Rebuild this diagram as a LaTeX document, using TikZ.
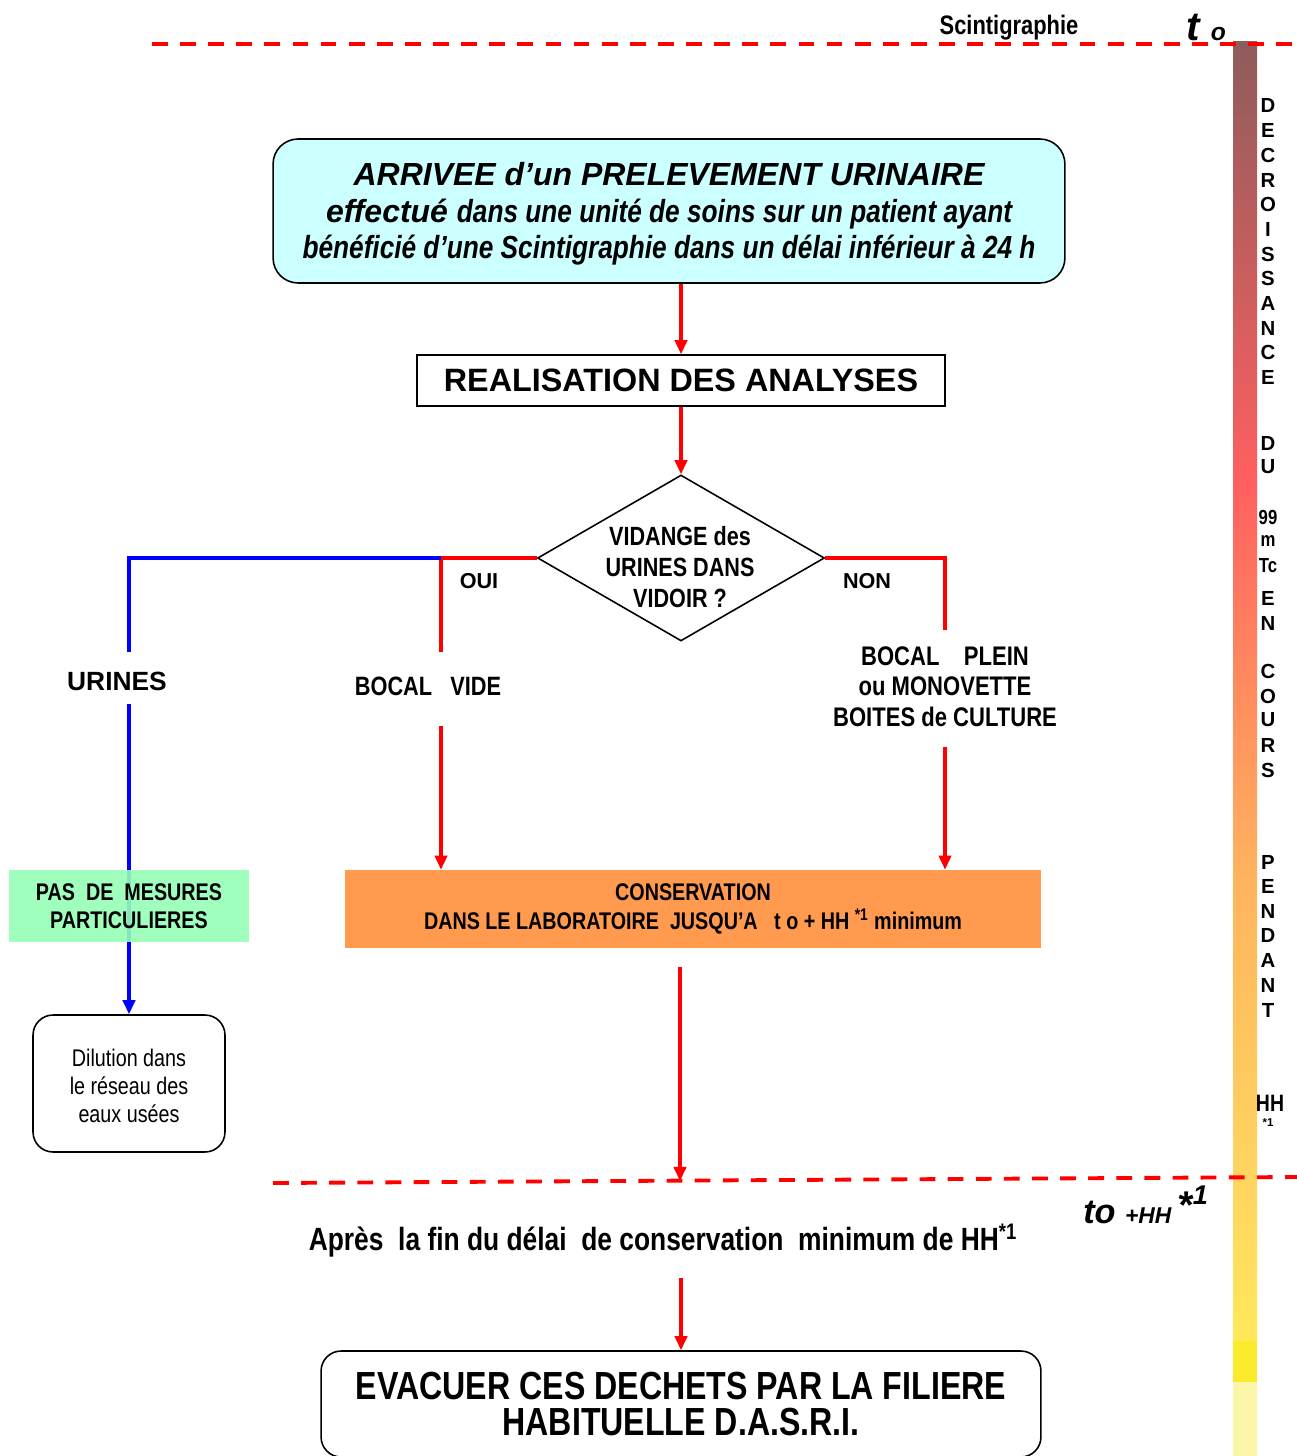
\documentclass[tikz,border=0pt]{standalone}
\usepackage{fontspec}
\setmainfont{Liberation Sans}
\newfontfamily\narrowfont[FakeStretch=0.82]{Liberation Sans}
\usetikzlibrary{shapes.geometric,arrows.meta}
\definecolor{cyanbox}{RGB}{204,255,255}
\definecolor{orangebox}{RGB}{255,154,78}
\definecolor{greenbox}{RGB}{150,255,182}
\definecolor{barA}{RGB}{142,92,92}
\definecolor{barB}{RGB}{255,95,95}
\definecolor{barC}{RGB}{255,180,94}
\definecolor{barD}{RGB}{255,215,95}
\definecolor{barE}{RGB}{255,232,90}
\definecolor{barF}{RGB}{250,235,45}
\definecolor{barG}{RGB}{252,246,168}
\newcommand{\fs}[2]{\fontsize{#1}{#2}\selectfont}

\begin{document}
\begin{tikzpicture}[x=0.02cm,y=-0.02cm,
  redline/.style={red,line width=1.8pt},
  blueline/.style={blue,line width=2.1pt},
  redarrow/.style={redline,-{Triangle[width=7pt,length=8pt]}},
  bluearrow/.style={blueline,-{Triangle[width=7pt,length=8pt]}},
  timeline/.style={red,line width=2.2pt,dash pattern=on 9pt off 7pt},
  txt/.style={align=center,inner sep=0pt,font=\narrowfont\bfseries},
  vlet/.style={inner sep=0pt,font=\bfseries\fs{11.6}{12}}]
\useasboundingbox (0,0) rectangle (1297,1456);

% decay bar
\shade[top color=barA,bottom color=barB] (1233,42) rectangle (1257,480);
\shade[top color=barB,bottom color=barC] (1233,480) rectangle (1257,880);
\shade[top color=barC,bottom color=barD] (1233,880) rectangle (1257,1200);
\shade[top color=barD,bottom color=barE] (1233,1200) rectangle (1257,1341);
\fill[barF] (1233,1341) rectangle (1257,1382);
\fill[barG] (1233,1382) rectangle (1257,1456);

% letters of the bar
\foreach \l/\y in {D/105,E/130,C/155,R/180,O/204,I/229,S/254,S/278,A/303,N/328,C/352,E/377,
                   D/443,U/467,E/598,N/623,C/671,O/696,U/720,R/745,S/770,
                   P/862,E/886,N/911,D/935,A/960,N/985,T/1010}
  \node[vlet] (v\y) at (1268,\y) {\l};
\node[vlet,font=\narrowfont\bfseries\fs{11.6}{12}] (v517) at (1268,517) {99};
\node[vlet,font=\narrowfont\bfseries\fs{11.6}{12}] (v541) at (1268,541) {m};
\node[vlet,font=\narrowfont\bfseries\fs{11.6}{12}] (v566) at (1268,566) {Tc};
\node[vlet,font=\narrowfont\bfseries\fs{13.5}{13}] (v1103) at (1270,1103) {HH};
\node[vlet,font=\bfseries\fs{6.5}{7}] (v1123) at (1268,1123) {*1};

% time lines
\draw[timeline] (152,44) -- (1297,44);
\draw[timeline] (273,1183) -- (1297,1177);
\node[txt,font=\narrowfont\bfseries\fs{15.2}{16}] (scinti) at (1009,28) {Scintigraphie};
\node[txt,font=\bfseries\itshape] (tzero) at (1206,27) {\fs{23}{22}t \fs{14}{14}o};
\node[txt,font=\bfseries\itshape] (tfin) at (1146,1205) {\fs{19.5}{19}to \fs{13}{13}+HH \raisebox{3pt}{\fs{22}{19}*\textsuperscript{1}}};

% boxes
\node[draw,fill=cyanbox,rounded corners=0.5cm,line width=0.9pt,minimum width=15.84cm,minimum height=2.88cm] (arrivee) at (669,211) {};
\node[txt,font=\bfseries\itshape\fs{18.2}{20.8}] (arriveetxt) at (669,214)
  {ARRIVEE d’un PRELEVEMENT URINAIRE\\
   effectué {\narrowfont dans une unité de soins sur un patient ayant}\\
   {\narrowfont bénéficié d’une Scintigraphie dans un délai inférieur à 24 h}};

\node[draw,line width=0.9pt,minimum width=10.56cm,minimum height=1.02cm,txt,font=\bfseries\fs{18.4}{20}] (analyses) at (681,380.5)
  {REALISATION DES ANALYSES};

\node[draw,diamond,line width=0.9pt,minimum width=5.74cm,minimum height=3.32cm,inner sep=0pt] (vidange) at (681,558) {};
\node[txt,font=\narrowfont\bfseries\fs{15}{17.6}] (vidangetxt) at (680,567) {VIDANGE des\\URINES DANS\\VIDOIR ?};

\node[txt,font=\bfseries\fs{12.3}{13}] (oui) at (479,581) {OUI};
\node[txt,font=\bfseries\fs{12.3}{13}] (non) at (867,581) {NON};

\node[txt,font=\bfseries\fs{15}{16}] (urines) at (117,681) {URINES};
\node[txt,font=\narrowfont\bfseries\fs{15.1}{16}] (bocalvide) at (428,686) {BOCAL~~~VIDE};
\node[txt,font=\narrowfont\bfseries\fs{15.3}{17.4}] (bocalplein) at (945,686.5)
  {BOCAL~~~~PLEIN\\ou MONOVETTE\\BOITES de CULTURE};

\node[fill=orangebox,minimum width=13.92cm,minimum height=1.56cm,txt,font=\narrowfont\bfseries\fs{13.7}{16.5}] (conservation) at (693,909)
  {CONSERVATION\\DANS LE LABORATOIRE~~JUSQU’A~~~t o + HH \textsuperscript{*1} minimum};

\node[draw,rounded corners=0.4cm,line width=0.9pt,minimum width=3.84cm,minimum height=2.74cm] (dilution) at (129,1083.5) {};
\node[txt,font=\narrowfont\fs{13.7}{16}] (dilutiontxt) at (129,1086)
  {Dilution dans\\le réseau des\\eaux usées};

\node[txt,font=\narrowfont\bfseries\fs{18.3}{20}] (apres) at (663,1241)
  {Après~~la fin du délai~~de conservation~~minimum de HH\textsuperscript{*1}};

\node[draw,rounded corners=0.4cm,line width=0.9pt,minimum width=14.4cm,minimum height=2.12cm,txt,font=\narrowfont\bfseries\fs{22.3}{20.5}] (evacuer) at (681,1404)
  {EVACUER CES DECHETS PAR LA FILIERE\\HABITUELLE D.A.S.R.I.};

% red connectors
\coordinate (ouicorner) at (441,558);
\coordinate (ouiend) at (441,652);
\coordinate (noncorner) at (945,558);
\coordinate (nonend) at (945,630);
\coordinate (finconserv) at (680,1181);
\draw[redarrow] (arrivee.south -| analyses.north) -- (analyses.north);
\draw[redarrow] (analyses.south) -- (vidange.north);
\draw[redline] (vidange.west) -- (ouicorner) -- (ouiend);
\draw[redline] (vidange.east) -- (noncorner) -- (nonend);
\draw[redarrow,shorten <=0.6cm] (bocalvide.south -| ouiend) -- (conservation.north -| ouiend);
\draw[redarrow,shorten <=0.4cm] (bocalplein.south) -- (conservation.north -| bocalplein.south);
\draw[redarrow,shorten <=0.38cm] (conservation.south -| finconserv) -- (finconserv);
\draw[redarrow,shorten <=0.4cm] (apres.south -| evacuer.north) -- (evacuer.north);

% blue connectors
\coordinate (urinestop) at (129,652);
\draw[blueline] (ouicorner) -| (urinestop);
\draw[bluearrow,shorten <=0.26cm] (urines.south -| dilution.north) -- (dilution.north);

\node[fill=greenbox,fill opacity=0.9,text opacity=1,minimum width=4.8cm,minimum height=1.44cm,txt,font=\narrowfont\bfseries\fs{13.7}{16}] (pasmesures) at (129,906)
  {PAS~~DE~~MESURES\\PARTICULIERES};

\end{tikzpicture}
\end{document}
